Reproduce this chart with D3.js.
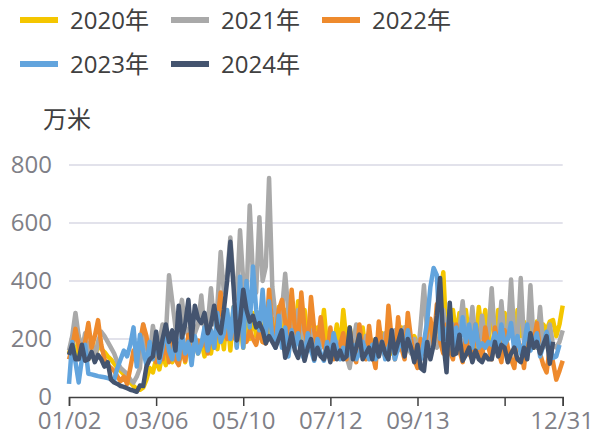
<!DOCTYPE html>
<html lang="en">
<head>
<meta charset="UTF-8">
<title>万米</title>
<script src="https://d3js.org/d3.v7.min.js"></script>
<style>
    body { margin: 0; background: #fff; }
    text { font-family: "Open Sans", "Noto Sans CJK SC", sans-serif; }
    .legendLabel, .unit { font-size: 24px; fill: #404040; }
    .tick text { font-size: 24px; fill: #7f7f87; }
</style>
</head>
<body>
<script>
    const width = 595;
    const height = 439;

    // 3 readings a week, labels fall on every 27th reading
    const tickIndex = [0, 27, 54, 81, 108, 135, 153];
    const tickLabels = ["01/02", "03/06", "05/10", "07/12", "09/13", "", "12/31"];
    const yTicks = [0, 200, 400, 600, 800];
    const seriesNames = ["2020年", "2021年", "2022年", "2023年", "2024年"];
    const seriesColors = ["#f4c600", "#a9a9a9", "#ee8a2d", "#62a4dd", "#44546f"];

    const y2020 = [150,190,130,210,140,200,130,180,125,190,165,155,140,130,115,100,90,78,65,50,38,28,25,32,60,100,85,
        130,95,150,110,170,120,185,130,180,120,190,140,205,150,195,140,215,150,220,165,250,165,290,160,310,175,260,
        170,280,200,290,210,260,190,300,200,270,220,310,190,300,170,290,200,330,180,300,190,260,170,240,180,300,170,
        215,170,250,160,300,190,240,150,230,170,240,150,220,160,200,150,220,160,230,150,210,170,240,150,190,170,210,
        180,190,170,200,230,180,260,330,430,200,170,300,210,290,220,300,200,280,170,310,220,300,180,310,210,300,180,
        290,200,280,190,300,210,260,180,280,170,260,190,250,230,260,265,210,250,315];
    const y2021 = [160,210,290,210,160,220,150,200,130,190,225,210,190,170,150,120,100,90,80,60,50,70,100,250,170,140,245,
        180,190,250,210,420,330,240,270,335,240,210,280,220,250,350,230,250,375,250,320,500,360,420,550,400,340,575,
        400,340,660,420,360,620,400,450,755,380,280,220,300,425,290,230,210,300,250,190,170,230,180,170,220,170,160,
        180,140,190,150,200,140,100,180,250,170,150,210,160,130,190,140,180,220,150,190,230,160,200,240,170,150,200,
        130,250,385,220,180,240,170,210,300,210,180,250,200,230,330,210,190,310,200,170,280,190,220,375,200,190,330,
        200,210,405,210,190,410,190,180,385,190,170,310,170,190,250,180,170,190,230];
    const y2022 = [130,170,235,180,130,190,255,170,210,265,180,130,110,100,90,70,55,70,45,100,160,120,190,250,210,130,180,
        120,180,130,200,120,190,130,110,170,125,215,130,190,195,175,200,150,230,170,260,360,230,200,260,210,190,230,
        210,190,230,200,180,230,190,185,370,240,210,300,335,260,200,370,240,190,360,230,180,345,230,170,275,180,140,
        240,130,150,180,220,130,230,150,120,250,160,130,245,150,100,260,170,140,315,200,130,275,170,130,290,200,130,
        100,200,150,230,270,180,320,190,150,250,160,130,250,160,120,210,150,130,250,180,130,240,170,130,240,160,120,
        230,170,130,100,200,170,100,210,170,190,255,150,110,85,170,120,60,90,125];
    const y2023 = [45,190,120,50,130,180,80,78,75,72,70,68,65,62,58,100,130,160,140,180,240,105,215,160,110,190,130,
        210,120,170,240,160,130,210,130,220,150,190,110,210,150,180,240,160,230,170,290,190,220,300,200,310,170,415,
        170,400,240,450,300,230,370,210,330,200,170,280,170,240,140,230,170,220,150,130,220,160,125,200,150,125,190,
        130,220,170,130,170,140,150,180,130,150,190,160,130,180,130,150,190,130,170,200,130,170,190,150,230,160,150,
        150,130,190,260,380,445,420,200,240,180,300,160,240,170,275,190,250,170,250,170,185,170,190,180,220,170,250,
        180,200,255,160,210,150,180,250,160,190,220,140,180,225,180,135,140,180];
    const y2024 = [145,180,130,130,180,125,130,155,120,145,130,105,120,60,50,45,38,35,30,25,22,18,40,38,105,130,140,
        225,135,200,250,190,230,160,315,205,250,335,195,315,270,255,290,220,250,315,240,220,300,400,535,380,195,260,370,
        300,260,280,240,255,230,185,210,190,170,200,230,135,170,220,160,135,190,125,170,200,130,170,140,130,170,
        120,180,130,160,130,140,240,130,170,215,130,150,170,130,200,140,190,150,130,230,150,190,230,140,200,170,120,
        180,100,90,190,130,180,280,410,190,85,325,145,150,215,125,145,170,120,160,130,120,145,130,130,190,140,180,
        170,120,150,170,130,120,170,130,220,170,190,150,180,210,115,190];
    const allSeries = [y2020, y2021, y2022, y2023, y2024];

    const svg = d3.select("body").append("svg")
        .attr("width", width)
        .attr("height", height)
        .style("display", "block");

    const x = d3.scaleLinear().domain([0, 153]).range([69, 562.7]);
    const y = d3.scaleLinear().domain([0, 800]).range([397, 165]);

    // grid
    svg.append("g").selectAll("line")
        .data(yTicks.slice(1))
        .join("line")
        .attr("x1", x(0))
        .attr("x2", x(153))
        .attr("y1", d => y(d))
        .attr("y2", d => y(d))
        .attr("stroke", "#d9d9e4")
        .attr("stroke-width", 1.5);

    // lines
    const line = d3.line()
        .x((d, i) => x(i))
        .y(d => y(d));

    svg.append("g").selectAll("path")
        .data(allSeries)
        .join("path")
        .attr("d", line)
        .attr("fill", "none")
        .attr("stroke", (d, i) => seriesColors[i])
        .attr("stroke-width", 4.5)
        .attr("stroke-linejoin", "round");

    // y axis, labels only
    const yAxis = svg.append("g")
        .attr("transform", "translate(58,0)")
        .call(d3.axisLeft(y).tickValues(yTicks).tickSize(0).tickPadding(6));
    yAxis.select(".domain").remove();

    // x axis
    const xAxis = svg.append("g")
        .attr("transform", "translate(0,397)")
        .call(d3.axisBottom(x)
            .tickValues(tickIndex)
            .tickFormat(d => tickLabels[tickIndex.indexOf(d)])
            .tickSizeOuter(0)
            .tickSize(9)
            .tickPadding(6));
    xAxis.selectAll("line, .domain").attr("stroke", "#404040").attr("stroke-width", 1.5);
    xAxis.selectAll(".tick text").filter(d => d === 153).attr("dx", -1);

    // unit
    svg.append("text")
        .attr("class", "unit")
        .attr("x", 43)
        .attr("y", 128)
        .text("万米");

    // legend
    const legendPos = [[20, 20], [171, 20], [322, 20], [20, 64], [171, 64]];
    const legend = svg.append("g").selectAll("g")
        .data(seriesNames)
        .join("g")
        .attr("transform", (d, i) => `translate(${legendPos[i][0]},${legendPos[i][1]})`);
    legend.append("line")
        .attr("x1", 0)
        .attr("x2", 38)
        .attr("stroke", (d, i) => seriesColors[i])
        .attr("stroke-width", 6);
    legend.append("text")
        .attr("class", "legendLabel")
        .attr("x", 50)
        .attr("y", 9)
        .text(d => d);
</script>
</body>
</html>
